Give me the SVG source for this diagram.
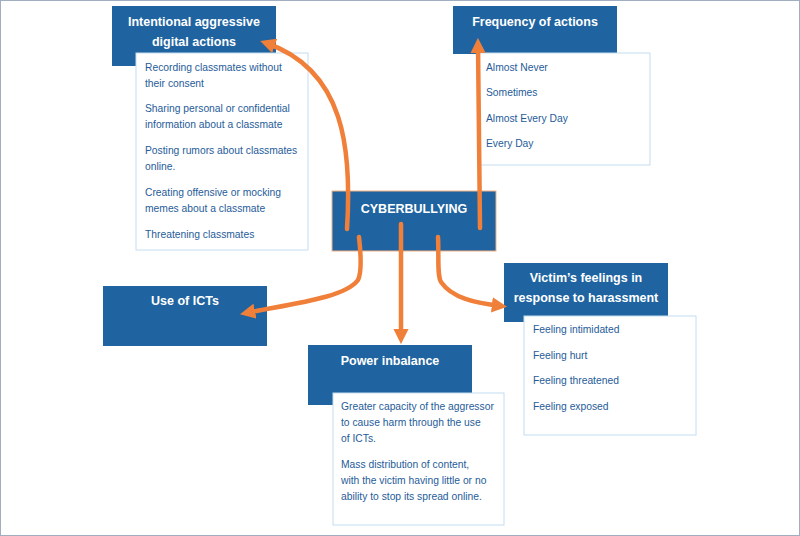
<svg xmlns="http://www.w3.org/2000/svg" width="800" height="536" viewBox="0 0 800 536">
<style>
.h{fill:#1F64A0}
.s{fill:#fff;stroke:#C5DDF0;stroke-width:1}
.t{font-family:"Liberation Sans",Arial,sans-serif;font-size:12.5px;font-weight:bold;fill:#fff;text-anchor:middle}
.l{font-family:"Liberation Sans",Arial,sans-serif;font-size:10.3px;fill:#1F5C99}
.c{fill:none;stroke:#F07F3A;stroke-width:4.5;stroke-linecap:round}
</style>
<defs><marker id="a" viewBox="0 0 10 10" refX="6" refY="5" markerWidth="3.4" markerHeight="3.4" orient="auto"><path d="M0,0L10,5L0,10Z" fill="#F07F3A"/></marker></defs>
<rect x="0.5" y="0.5" width="799" height="535" fill="#fff" stroke="#A0AEC0"/>
<g id="intentional">
<rect class="h" x="112" y="6" width="164" height="60"/>
<rect class="s" x="136" y="53" width="172" height="197"/>
<text class="t" x="194" y="26">Intentional aggressive</text>
<text class="t" x="194" y="46">digital actions</text>
<text class="l" x="145" y="71">Recording classmates without</text>
<text class="l" x="145" y="87">their consent</text>
<text class="l" x="145" y="112">Sharing personal or confidential</text>
<text class="l" x="145" y="128">information about a classmate</text>
<text class="l" x="145" y="154">Posting rumors about classmates</text>
<text class="l" x="145" y="170">online.</text>
<text class="l" x="145" y="196">Creating offensive or mocking</text>
<text class="l" x="145" y="212">memes about a classmate</text>
<text class="l" x="145" y="238">Threatening classmates</text>
</g>
<g id="frequency">
<rect class="h" x="453" y="6" width="164" height="48"/>
<rect class="s" x="478" y="53" width="172" height="112"/>
<text class="t" x="535" y="26">Frequency of actions</text>
<text class="l" x="486" y="71">Almost Never</text>
<text class="l" x="486" y="96">Sometimes</text>
<text class="l" x="486" y="122">Almost Every Day</text>
<text class="l" x="486" y="147">Every Day</text>
</g>
<g id="cyberbullying">
<rect class="h" x="332" y="191" width="164" height="60" stroke="#F4B183" stroke-width="1"/>
<text class="t" x="414" y="213">CYBERBULLYING</text>
</g>
<g id="icts">
<rect class="h" x="103" y="286" width="164" height="60"/>
<text class="t" x="185" y="305">Use of ICTs</text>
</g>
<g id="power">
<rect class="h" x="308" y="345" width="164" height="60"/>
<rect class="s" x="333" y="393" width="171" height="132"/>
<text class="t" x="390" y="365">Power inbalance</text>
<text class="l" x="341" y="410">Greater capacity of the aggressor</text>
<text class="l" x="341" y="426">to cause harm through the use</text>
<text class="l" x="341" y="442">of ICTs.</text>
<text class="l" x="341" y="468">Mass distribution of content,</text>
<text class="l" x="341" y="484">with the victim having little or no</text>
<text class="l" x="341" y="500">ability to stop its spread online.</text>
</g>
<g id="victim">
<rect class="h" x="504" y="263" width="164" height="59"/>
<rect class="s" x="524" y="316" width="172" height="119"/>
<text class="t" x="586" y="282">Victim’s feelings in</text>
<text class="t" x="586" y="302">response to harassment</text>
<text class="l" x="533" y="333">Feeling intimidated</text>
<text class="l" x="533" y="359">Feeling hurt</text>
<text class="l" x="533" y="384">Feeling threatened</text>
<text class="l" x="533" y="410">Feeling exposed</text>
</g>
<g id="connectors">
<path class="c" d="M347,229 C352,150 345,70 266,43" marker-end="url(#a)"/>
<path class="c" d="M480,228 L478,44" marker-end="url(#a)"/>
<path class="c" d="M359,237 C361,255 362,272 358,280 C345,298 290,304 246,313" marker-end="url(#a)"/>
<path class="c" d="M401,224 L401,338" marker-end="url(#a)"/>
<path class="c" d="M438,237 C439,258 437,275 441,282 C452,298 475,303 501,306" marker-end="url(#a)"/>
</g>
</svg>
